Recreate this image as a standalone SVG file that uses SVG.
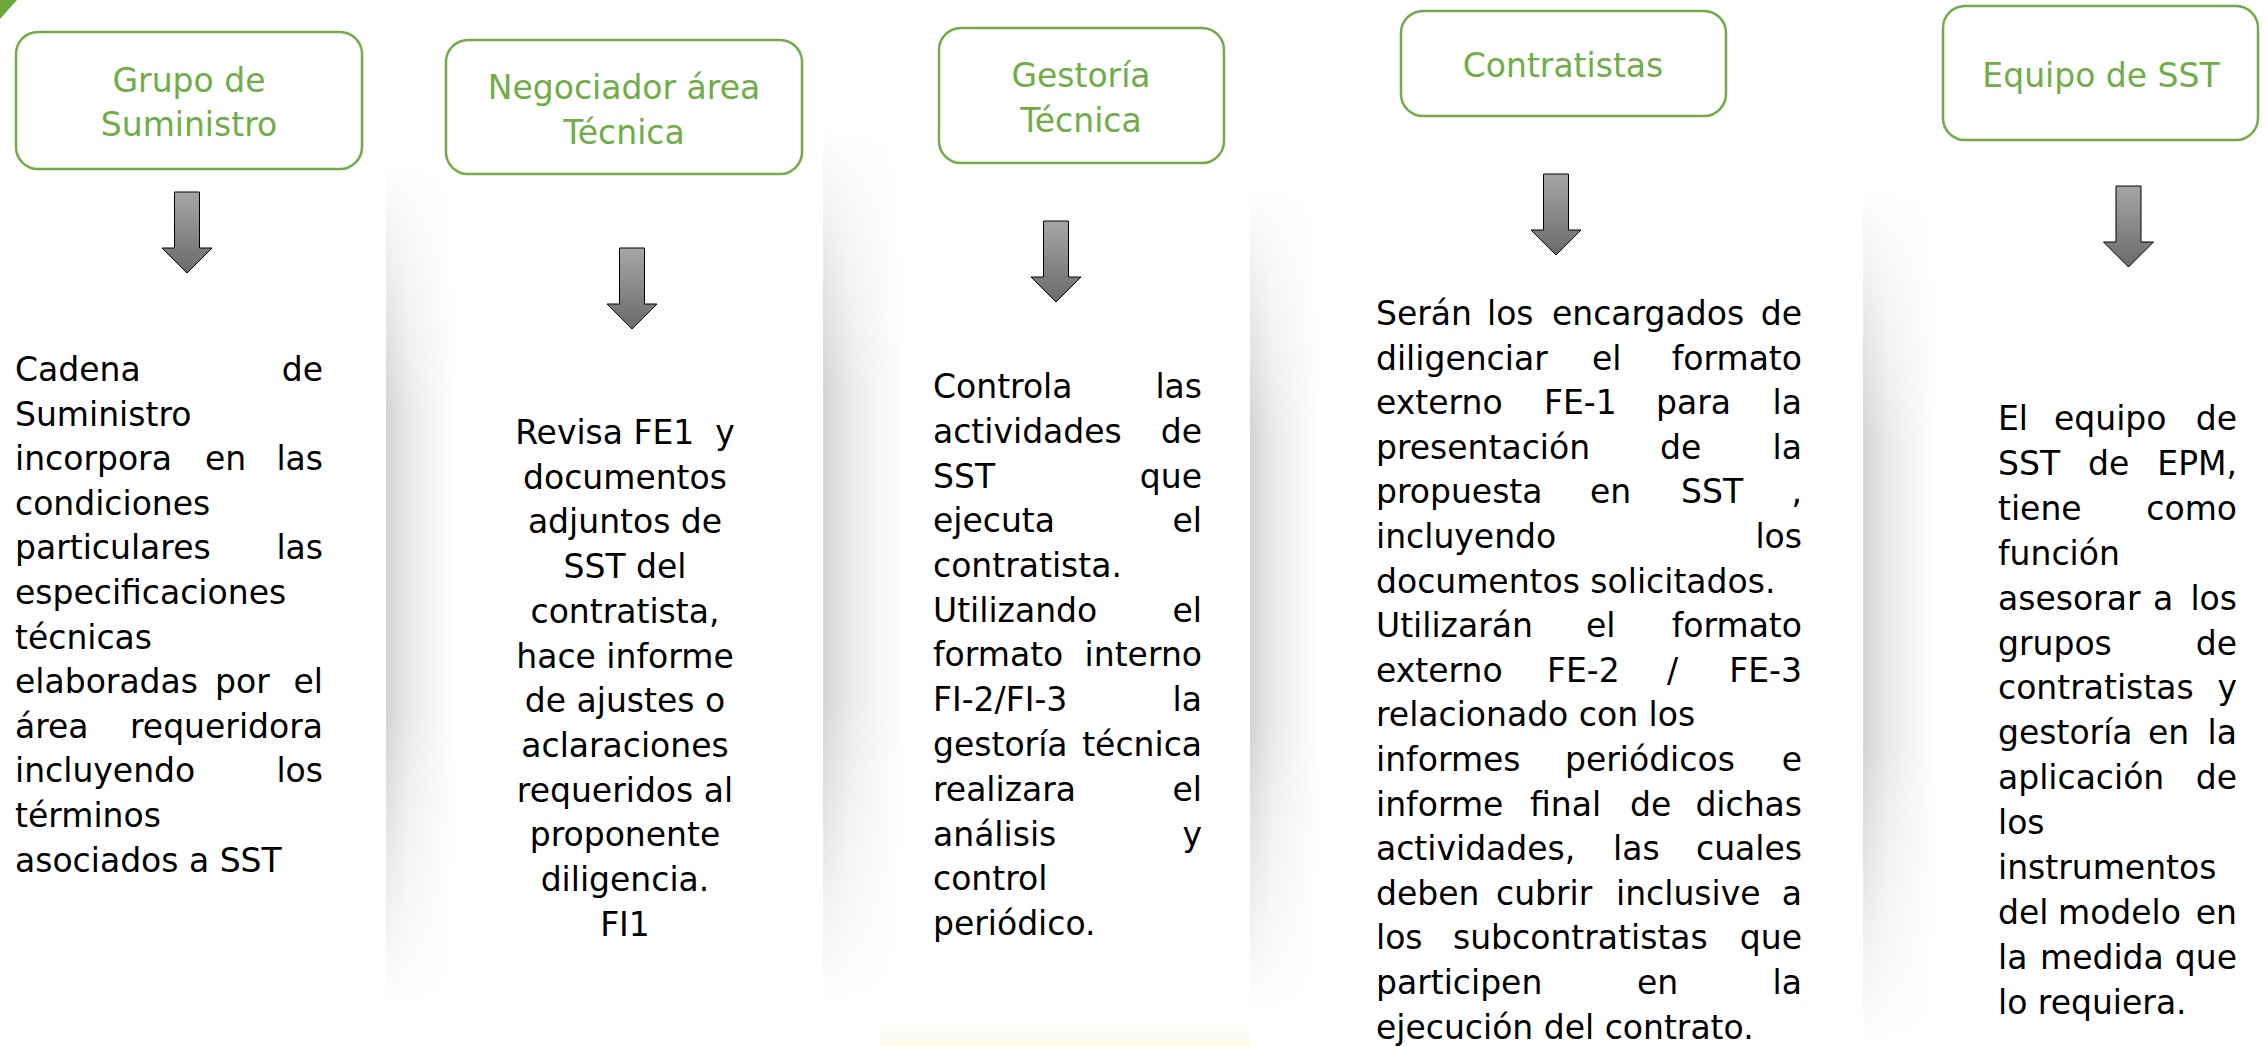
<svg xmlns="http://www.w3.org/2000/svg" width="2267" height="1047" viewBox="0 0 2267 1047">
<style>
.hd{font-family:"DejaVu Sans",Verdana,sans-serif;font-size:33px;fill:#70AD47;text-anchor:middle}
.b{font-family:"DejaVu Sans",Verdana,sans-serif;font-size:33px;fill:#000}
.e{text-anchor:end}
.m{text-anchor:middle}
.box{fill:#fff;stroke:#70AD47;stroke-width:2.5}
.arr{fill:url(#ag);stroke:#000;stroke-width:1}
</style>
<defs>
<linearGradient id="ag" x1="0" y1="0" x2="0" y2="1">
<stop offset="0" stop-color="#a6a6a6"/><stop offset="1" stop-color="#6a6a6a"/>
</linearGradient>
<linearGradient id="hs" x1="0" y1="0" x2="1" y2="0">
<stop offset="0" stop-color="#000" stop-opacity="0.17"/><stop offset="0.35" stop-color="#000" stop-opacity="0.08"/><stop offset="1" stop-color="#000" stop-opacity="0"/>
</linearGradient>
<linearGradient id="vg" x1="0" y1="0" x2="0" y2="1">
<stop offset="0" stop-color="#000"/><stop offset="0.3" stop-color="#fff"/><stop offset="0.65" stop-color="#fff"/><stop offset="1" stop-color="#000"/>
</linearGradient>
<mask id="vf" maskContentUnits="objectBoundingBox"><rect width="1" height="1" fill="url(#vg)"/></mask>
<linearGradient id="yg" x1="0" y1="0" x2="0" y2="1">
<stop offset="0" stop-color="#f6f6c8" stop-opacity="0"/><stop offset="1" stop-color="#f6f6c8" stop-opacity="0.45"/>
</linearGradient>
<path id="arrow" d="M-12.5,0 H12.5 V56 H25 L0,81 L-25,56 H-12.5 Z"/>
</defs>
<rect width="2267" height="1047" fill="#fff"/>
<g id="background">
<polygon points="0,0 17,0 0,19" fill="#6aaa3a"/>
<rect x="386" y="160" width="70" height="850" fill="url(#hs)" mask="url(#vf)"/>
<rect x="823" y="125" width="80" height="880" fill="url(#hs)" mask="url(#vf)"/>
<rect x="1250" y="185" width="70" height="830" fill="url(#hs)" mask="url(#vf)"/>
<rect x="1863" y="185" width="75" height="862" fill="url(#hs)" mask="url(#vf)"/>
<rect x="880" y="1022" width="370" height="25" fill="url(#yg)"/>
</g>
<g id="connectors">
<use href="#arrow" class="arr" transform="translate(187,192)"/>
<use href="#arrow" class="arr" transform="translate(632,248)"/>
<use href="#arrow" class="arr" transform="translate(1056,221)"/>
<use href="#arrow" class="arr" transform="translate(1556,174)"/>
<use href="#arrow" class="arr" transform="translate(2128.5,186)"/>
</g>
<g id="node-grupo-suministro">
<rect class="box" x="16" y="32" width="346" height="137" rx="22"/>
<text class="hd" x="189" y="92">Grupo de</text>
<text class="hd" x="189" y="136">Suministro</text>
</g>
<g id="text-grupo-suministro" class="b">
<text x="15" y="381">Cadena</text><text class="e" x="323" y="381">de</text>
<text x="15" y="426">Suministro</text>
<text x="15" y="470">incorpora</text><text x="205" y="470">en</text><text class="e" x="323" y="470">las</text>
<text x="15" y="515">condiciones</text>
<text x="15" y="559">particulares</text><text class="e" x="323" y="559">las</text>
<text x="15" y="604">especificaciones</text>
<text x="15" y="649">técnicas</text>
<text x="15" y="693">elaboradas</text><text x="215" y="693">por</text><text class="e" x="323" y="693">el</text>
<text x="15" y="738">área</text><text class="e" x="323" y="738">requeridora</text>
<text x="15" y="782">incluyendo</text><text class="e" x="323" y="782">los</text>
<text x="15" y="827">términos</text>
<text x="15" y="872">asociados a SST</text>
</g>
<g id="node-negociador">
<rect class="box" x="446" y="40" width="356" height="134" rx="22"/>
<text class="hd" x="624" y="99">Negociador área</text>
<text class="hd" x="624" y="144">Técnica</text>
</g>
<g id="text-negociador" class="b m">
<text x="625" y="444" xml:space="preserve">Revisa FE1  y</text>
<text x="625" y="489">documentos</text>
<text x="625" y="533">adjuntos de</text>
<text x="625" y="578">SST del</text>
<text x="625" y="623">contratista,</text>
<text x="625" y="668">hace informe</text>
<text x="625" y="712">de ajustes o</text>
<text x="625" y="757">aclaraciones</text>
<text x="625" y="802">requeridos al</text>
<text x="625" y="846">proponente</text>
<text x="625" y="891">diligencia.</text>
<text x="625" y="936">FI1</text>
</g>
<g id="node-gestoria">
<rect class="box" x="939" y="28" width="285" height="135" rx="22"/>
<text class="hd" x="1081" y="87">Gestoría</text>
<text class="hd" x="1081" y="132">Técnica</text>
</g>
<g id="text-gestoria" class="b">
<text x="933" y="398">Controla</text><text class="e" x="1202" y="398">las</text>
<text x="933" y="443">actividades</text><text class="e" x="1202" y="443">de</text>
<text x="933" y="488">SST</text><text class="e" x="1202" y="488">que</text>
<text x="933" y="532">ejecuta</text><text class="e" x="1202" y="532">el</text>
<text x="933" y="577">contratista.</text>
<text x="933" y="622">Utilizando</text><text class="e" x="1202" y="622">el</text>
<text x="933" y="666">formato</text><text class="e" x="1202" y="666">interno</text>
<text x="933" y="711">FI-2/FI-3</text><text class="e" x="1202" y="711">la</text>
<text x="933" y="756">gestoría</text><text class="e" x="1202" y="756">técnica</text>
<text x="933" y="801">realizara</text><text class="e" x="1202" y="801">el</text>
<text x="933" y="846">análisis</text><text class="e" x="1202" y="846">y</text>
<text x="933" y="890">control</text>
<text x="933" y="935">periódico.</text>
</g>
<g id="node-contratistas">
<rect class="box" x="1401" y="11" width="325" height="105" rx="22"/>
<text class="hd" x="1563" y="77">Contratistas</text>
</g>
<g id="text-contratistas" class="b">
<text x="1376" y="325">Serán</text><text x="1487" y="325">los</text><text x="1552" y="325">encargados</text><text class="e" x="1802" y="325">de</text>
<text x="1376" y="370">diligenciar</text><text x="1592" y="370">el</text><text class="e" x="1802" y="370">formato</text>
<text x="1376" y="414">externo</text><text x="1544" y="414">FE-1</text><text x="1656" y="414">para</text><text class="e" x="1802" y="414">la</text>
<text x="1376" y="459">presentación</text><text x="1660" y="459">de</text><text class="e" x="1802" y="459">la</text>
<text x="1376" y="503">propuesta</text><text x="1590" y="503">en</text><text x="1681" y="503">SST</text><text class="e" x="1802" y="503">,</text>
<text x="1376" y="548">incluyendo</text><text class="e" x="1802" y="548">los</text>
<text x="1376" y="593">documentos solicitados.</text>
<text x="1376" y="637">Utilizarán</text><text x="1586" y="637">el</text><text class="e" x="1802" y="637">formato</text>
<text x="1376" y="682">externo</text><text x="1547" y="682">FE-2</text><text x="1667" y="682">/</text><text class="e" x="1802" y="682">FE-3</text>
<text x="1376" y="726">relacionado con los</text>
<text x="1376" y="771">informes</text><text x="1565" y="771">periódicos</text><text class="e" x="1802" y="771">e</text>
<text x="1376" y="816">informe</text><text x="1530" y="816">final</text><text x="1630" y="816">de</text><text class="e" x="1802" y="816">dichas</text>
<text x="1376" y="860">actividades,</text><text x="1613" y="860">las</text><text class="e" x="1802" y="860">cuales</text>
<text x="1376" y="905">deben</text><text x="1496" y="905">cubrir</text><text x="1616" y="905">inclusive</text><text class="e" x="1802" y="905">a</text>
<text x="1376" y="949">los</text><text x="1453" y="949">subcontratistas</text><text class="e" x="1802" y="949">que</text>
<text x="1376" y="994">participen</text><text x="1637" y="994">en</text><text class="e" x="1802" y="994">la</text>
<text x="1376" y="1039">ejecución del contrato.</text>
</g>
<g id="node-equipo-sst">
<rect class="box" x="1943" y="6" width="315" height="134" rx="22"/>
<text class="hd" x="2101" y="87">Equipo de SST</text>
</g>
<g id="text-equipo-sst" class="b">
<text x="1998" y="430">El</text><text x="2054" y="430">equipo</text><text class="e" x="2237" y="430">de</text>
<text x="1998" y="475">SST</text><text x="2088" y="475">de</text><text class="e" x="2237" y="475">EPM,</text>
<text x="1998" y="520">tiene</text><text class="e" x="2237" y="520">como</text>
<text x="1998" y="565">función</text>
<text x="1998" y="610">asesorar</text><text x="2153" y="610">a</text><text class="e" x="2237" y="610">los</text>
<text x="1998" y="655">grupos</text><text class="e" x="2237" y="655">de</text>
<text x="1998" y="699">contratistas</text><text class="e" x="2237" y="699">y</text>
<text x="1998" y="744">gestoría</text><text x="2148" y="744">en</text><text class="e" x="2237" y="744">la</text>
<text x="1998" y="789">aplicación</text><text class="e" x="2237" y="789">de</text>
<text x="1998" y="834">los</text>
<text x="1998" y="879">instrumentos</text>
<text x="1998" y="924">del</text><text x="2058" y="924">modelo</text><text class="e" x="2237" y="924">en</text>
<text x="1998" y="969">la</text><text x="2040" y="969">medida</text><text class="e" x="2237" y="969">que</text>
<text x="1998" y="1014">lo requiera.</text>
</g>
</svg>
